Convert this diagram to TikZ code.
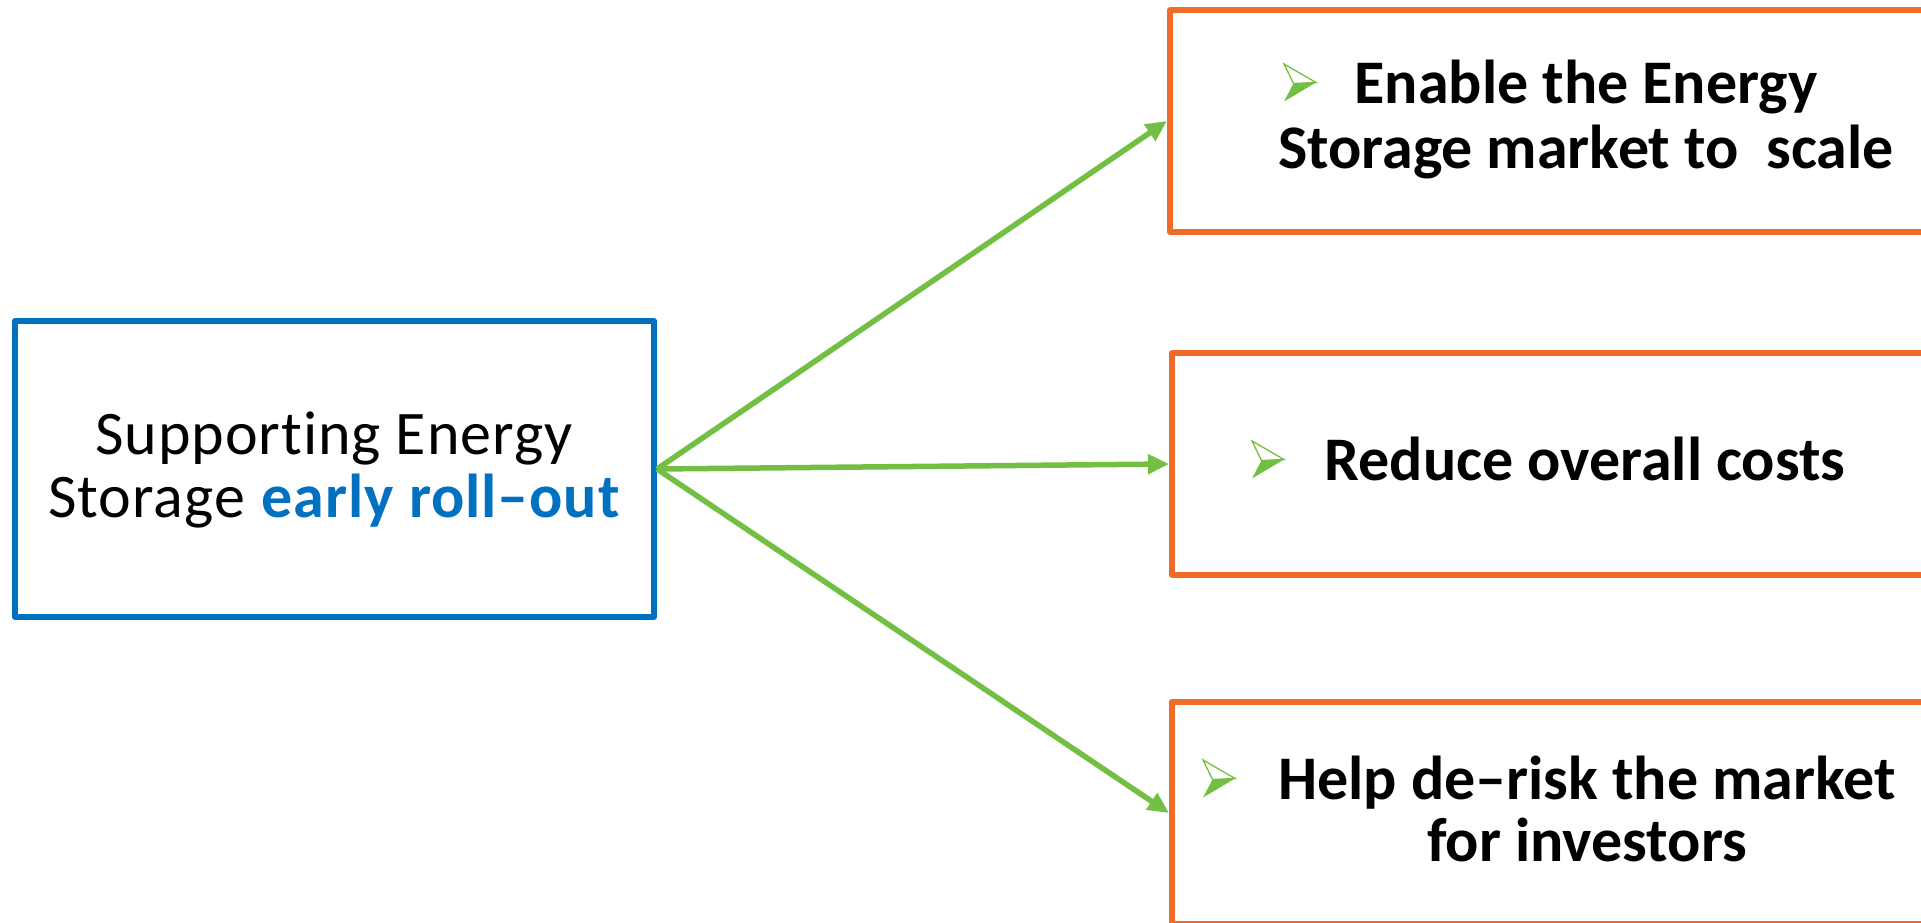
\documentclass[tikz,border=0pt]{standalone}
\usepackage{fontspec}
\setmainfont{Carlito}[Ligatures=NoCommon]
\usetikzlibrary{arrows.meta}
\definecolor{boxblue}{HTML}{0070C0}
\definecolor{boxorange}{HTML}{EE6B28}
\definecolor{linkgreen}{HTML}{72BF44}

\begin{document}
\begin{tikzpicture}[x=1pt,y=-1pt,
  srcbox/.style={draw=boxblue, line width=6pt, line join=round, minimum width=639pt, minimum height=296pt, inner sep=0pt},
  goalbox/.style={draw=boxorange, line width=6pt, line join=round, minimum width=830pt, minimum height=222pt, inner sep=0pt},
  link/.style={draw=linkgreen, line width=5.5pt, -{Triangle[length=21pt,width=19pt]}},
  txt/.style={font=\fontsize{62}{63}\selectfont\addfontfeature{LetterSpace=1.5}, inner sep=0pt, anchor=base},
  btxt/.style={font=\fontsize{62}{63}\selectfont\bfseries, inner sep=0pt, anchor=base},
  bullet/.pic={
    \fill[linkgreen] (9.5,19.5) -- (32,18.5) -- (0,37.5) -- cycle;
    \draw[linkgreen, line width=1.3pt, line join=miter] (0,0) -- (32,18.5) -- (9.5,19.5) -- cycle;
  }
]
\useasboundingbox (0,0) rectangle (1921,923);

% boxes
\node[srcbox]  (src) at (334.5,469) {};
\node[goalbox] (g1)  at (1585,121) {};
\node[goalbox] (g2)  at (1587,464) {};
\node[goalbox] (g3)  at (1587,813) {};

% connectors
\draw[link] (src.east) -- (g1.west);
\draw[link] (src.east) -- (g2.west);
\draw[link] (src.east) -- (g3.west);

% source text
\node[txt] (s1) at (334,454) {Supporting Energy};
\node[txt] (s2) at (334,517) {Storage\hspace{17pt}\textcolor{boxblue}{\bfseries early roll–out}};

% goal texts
\node[btxt] (a1) at (1586,104) {Enable the Energy};
\node[btxt] (a2) at (1586,168) {Storage market to\ \ scale};
\node[btxt] (b1) at (1585,480) {Reduce overall costs};
\node[btxt] (c1) at (1587,799) {Help de–risk the market};
\node[btxt] (c2) at (1587,861) {for investors};

% bullet marks
\pic at (1284,64) {bullet};
\pic at (1252,441) {bullet};
\pic at (1203,760) {bullet};
\end{tikzpicture}
\end{document}
